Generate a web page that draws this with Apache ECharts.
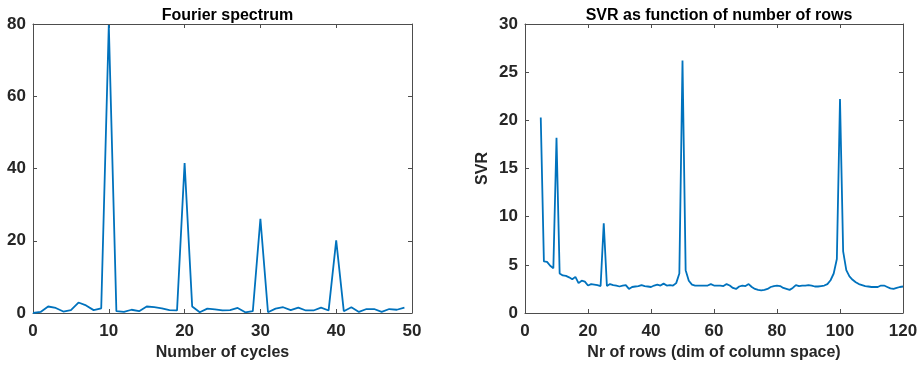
<!DOCTYPE html>
<html>
<head>
<meta charset="utf-8">
<script src="https://cdn.jsdelivr.net/npm/echarts@6/dist/echarts.min.js"></script>
<style>html,body{margin:0;padding:0;background:#fff}#c{width:921px;height:366px}</style>
</head>
<body>
<div id="c"></div>
<script>
// Left panel: Fourier spectrum (cycles 0..49)
const cycleStart = 0;
const spectrum = [0, 0.3, 1.8, 1.4, 0.4, 0.8, 2.9, 2.1, 0.8, 1.3,
  79.7, 0.5, 0.3, 0.9, 0.5, 1.8, 1.6, 1.3, 0.8, 0.7,
  41.5, 1.8, 0.2, 1.2, 1.0, 0.7, 0.8, 1.4, 0.2, 0.5,
  26.1, 0.2, 1.2, 1.6, 0.8, 1.5, 0.7, 0.7, 1.5, 0.7,
  20.1, 0.5, 1.6, 0.3, 1.1, 1.1, 0.3, 1.1, 0.9, 1.5];
// Right panel: SVR vs number of rows (rows 5..120)
const rowStart = 5;
const svr = [20.3, 5.35, 5.3, 4.9, 4.65,
  18.2, 4.1, 3.9, 3.85, 3.7, 3.5, 3.75, 3.1, 3.35, 3.25,
  2.85, 3.0, 2.95, 2.9, 2.8, 9.3, 2.8, 3.0, 2.9, 2.85,
  2.75, 2.85, 2.9, 2.5, 2.7, 2.75, 2.8, 2.9, 2.8, 2.75,
  2.7, 2.85, 2.95, 2.85, 3.05, 2.85, 2.9, 2.85, 3.1, 4.1,
  26.2, 4.45, 3.35, 2.95, 2.85, 2.85, 2.85, 2.85, 2.85, 3.0,
  2.85, 2.85, 2.85, 2.8, 3.0, 2.85, 2.6, 2.5, 2.75, 2.85,
  2.8, 3.0, 2.7, 2.5, 2.4, 2.35, 2.4, 2.5, 2.7, 2.8,
  2.85, 2.8, 2.6, 2.5, 2.4, 2.6, 2.9, 2.8, 2.85, 2.85,
  2.9, 2.85, 2.75, 2.75, 2.8, 2.85, 3.0, 3.4, 4.1, 5.6,
  22.2, 6.4, 4.45, 3.8, 3.45, 3.2, 3.0, 2.9, 2.8, 2.75,
  2.7, 2.7, 2.7, 2.85, 2.85, 2.7, 2.55, 2.5, 2.6, 2.7, 2.75];

const leftTitle = 'Fourier spectrum';
const rightTitle = 'SVR as function of number of rows';
const leftXName = 'Number of cycles';
const rightXName = 'Nr of rows (dim of column space)';
const rightYName = 'SVR';

const FONT = '"Liberation Sans", Arial, sans-serif';
const TXT = '#262626';
const AX = '#4d4d4d';
const LINE = '#0072BD';

const leftData = spectrum.map((v, i) => [cycleStart + i, v]);
const rightData = svr.map((v, i) => [rowStart + i, v]);

function mainX(grid, min, max, interval, name) {
  return {
    type: 'value', gridIndex: grid, min, max, interval, position: 'bottom',
    name, nameLocation: 'middle', nameGap: 32,
    nameTextStyle: { fontFamily: FONT, fontWeight: 'bold', fontSize: 16, color: TXT },
    axisLine: { show: true, onZero: false, lineStyle: { color: AX, width: 1 } },
    axisTick: { show: true, inside: true, length: 4, lineStyle: { color: AX } },
    axisLabel: { fontFamily: FONT, fontWeight: 'bold', fontSize: 17, color: TXT, margin: 10 },
    splitLine: { show: false }
  };
}
function mirrorX(grid, min, max, interval) {
  return {
    type: 'value', gridIndex: grid, min, max, interval, position: 'top',
    axisLine: { show: true, onZero: false, lineStyle: { color: AX, width: 1 } },
    axisTick: { show: true, inside: true, length: 4, lineStyle: { color: AX } },
    axisLabel: { show: false }, splitLine: { show: false }
  };
}
function mainY(grid, min, max, interval, name) {
  return {
    type: 'value', gridIndex: grid, min, max, interval, position: 'left',
    name: name || '', nameLocation: 'middle', nameGap: 34,
    nameTextStyle: { fontFamily: FONT, fontWeight: 'bold', fontSize: 16, color: TXT },
    axisLine: { show: true, onZero: false, lineStyle: { color: AX, width: 1 } },
    axisTick: { show: true, inside: true, length: 4, lineStyle: { color: AX } },
    axisLabel: { fontFamily: FONT, fontWeight: 'bold', fontSize: 17, color: TXT, margin: 7 },
    splitLine: { show: false }
  };
}
function mirrorY(grid, min, max, interval) {
  return {
    type: 'value', gridIndex: grid, min, max, interval, position: 'right',
    axisLine: { show: true, onZero: false, lineStyle: { color: AX, width: 1 } },
    axisTick: { show: true, inside: true, length: 4, lineStyle: { color: AX } },
    axisLabel: { show: false }, splitLine: { show: false }
  };
}

const chart = echarts.init(document.getElementById('c'), null, { renderer: 'canvas' });
chart.setOption({
  animation: false,
  backgroundColor: '#fff',
  title: [
    { text: leftTitle, left: 222.5, top: 3, textAlign: 'center',
      textStyle: { fontFamily: FONT, fontWeight: 'bold', fontSize: 16, color: '#000' } },
    { text: rightTitle, left: 714, top: 3, textAlign: 'center',
      textStyle: { fontFamily: FONT, fontWeight: 'bold', fontSize: 16, color: '#000' } }
  ],
  grid: [
    { left: 33, top: 24, width: 379, height: 291, containLabel: false },
    { left: 525, top: 24, width: 378, height: 291, containLabel: false }
  ],
  xAxis: [
    mainX(0, 0, 50, 10, leftXName),
    mirrorX(0, 0, 50, 10),
    mainX(1, 0, 120, 20, rightXName),
    mirrorX(1, 0, 120, 20)
  ],
  yAxis: [
    mainY(0, 0, 80, 20),
    mirrorY(0, 0, 80, 20),
    mainY(1, 0, 30, 5, rightYName),
    mirrorY(1, 0, 30, 5)
  ],
  series: [
    { type: 'line', xAxisIndex: 0, yAxisIndex: 0, data: leftData, showSymbol: false,
      lineStyle: { color: LINE, width: 1.8 }, clip: true },
    { type: 'line', xAxisIndex: 2, yAxisIndex: 2, data: rightData, showSymbol: false,
      lineStyle: { color: LINE, width: 1.8 }, clip: true }
  ]
});
</script>
</body>
</html>
